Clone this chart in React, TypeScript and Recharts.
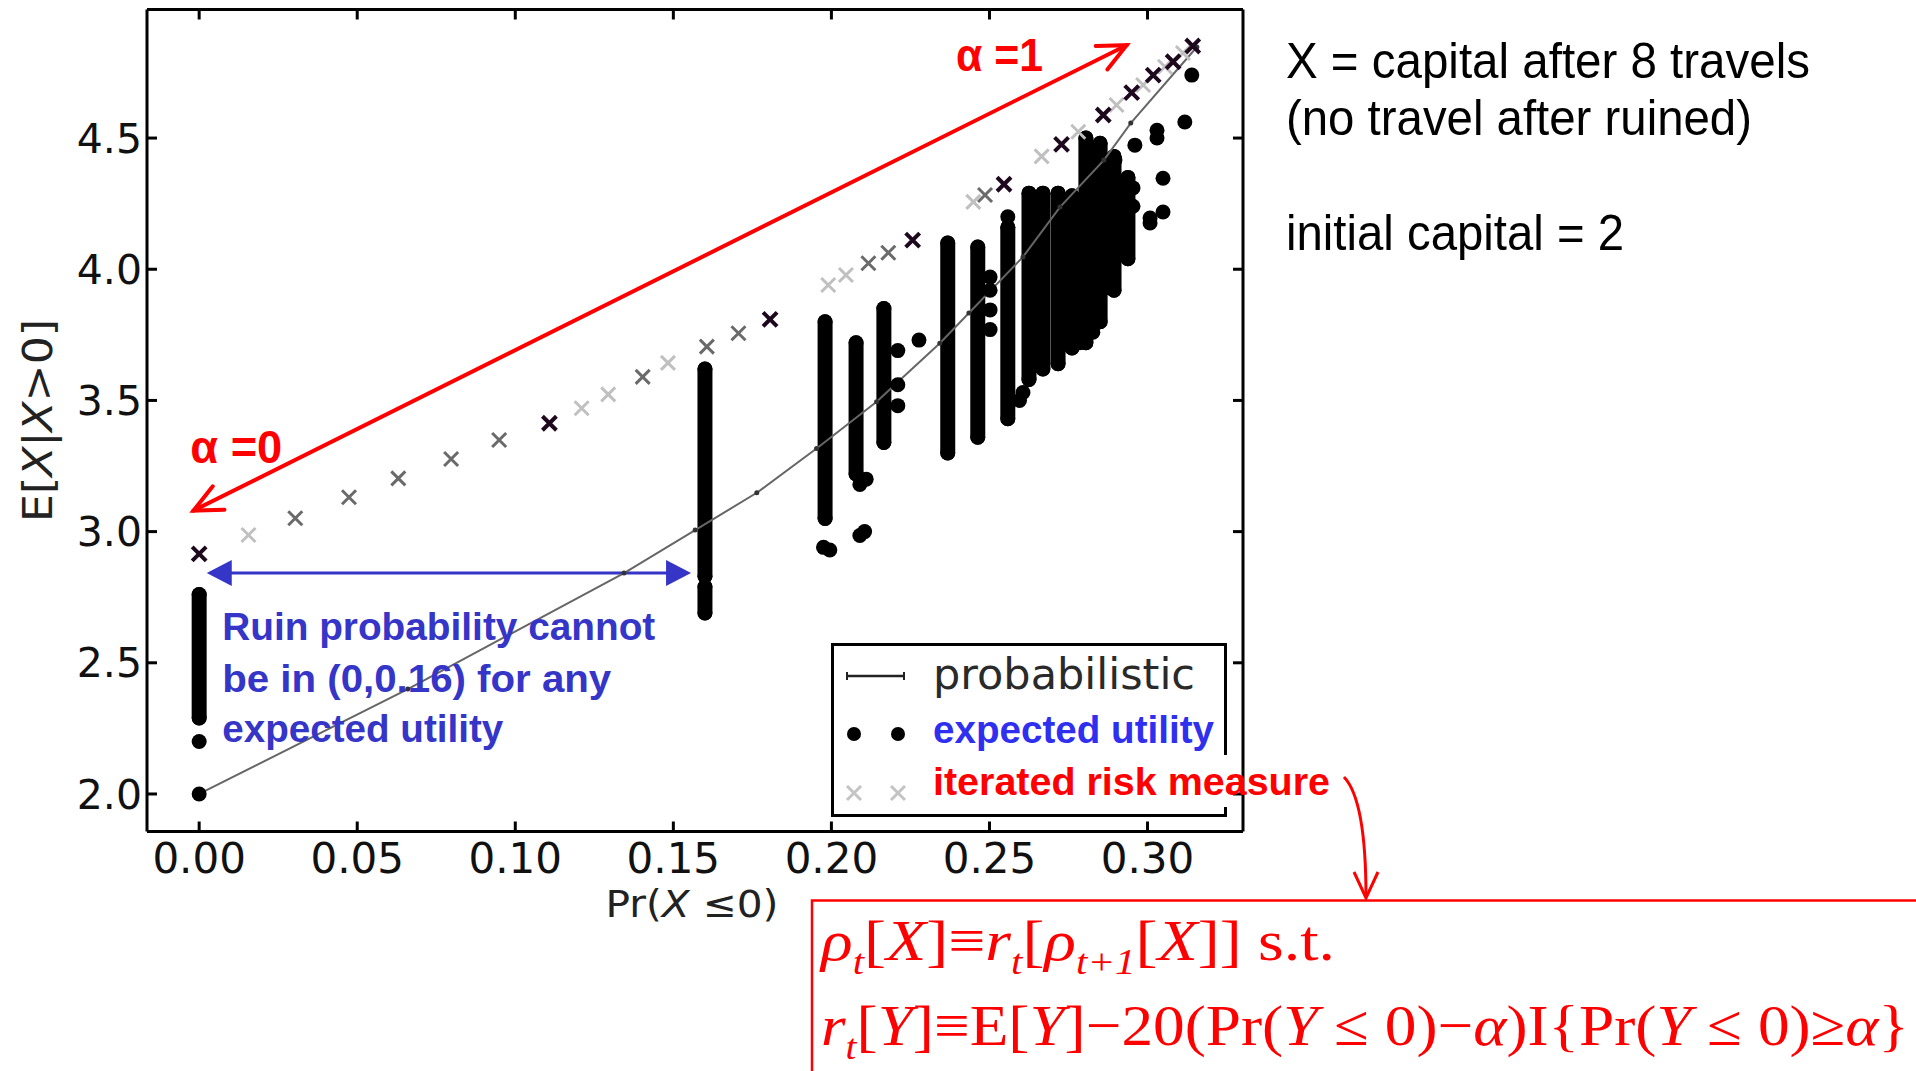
import React from "react";
import {
  ScatterChart,
  Scatter,
  XAxis,
  YAxis,
  ErrorBar,
  ReferenceLine,
  ReferenceDot,
  Legend,
} from "recharts";

const xTicks = [0, 0.05, 0.1, 0.15, 0.2, 0.25, 0.3];
const yTicks = [2.0, 2.5, 3.0, 3.5, 4.0, 4.5];

// probabilistic frontier (x = ruin probability, y = E[X|X>0])
const probabilistic = [
  [0.0, 2.0], [0.066, 2.4], [0.1344, 2.842], [0.1569, 3.006], [0.1764, 3.148],
  [0.1953, 3.317], [0.2143, 3.495], [0.2217, 3.578], [0.2343, 3.718], [0.2435, 3.833],
  [0.2606, 4.047], [0.2723, 4.237], [0.2862, 4.416], [0.2947, 4.557], [0.3156, 4.847],
];

// expected utility: dense vertical runs of points [x, lowest y, highest y]
const utilityRuns = [
  [0.0, 2.29, 2.76], [0.16, 2.83, 3.62], [0.16, 2.69, 2.79], [0.198, 3.05, 3.8],
  [0.2078, 3.22, 3.72], [0.2166, 3.34, 3.85], [0.2368, 3.3, 4.1], [0.2463, 3.36, 4.085],
  [0.2558, 3.43, 4.16], [0.2625, 3.58, 4.29], [0.2669, 3.62, 4.29], [0.2717, 3.64, 4.29],
  [0.2761, 3.7, 4.28], [0.2805, 3.72, 4.5], [0.285, 3.8, 4.48], [0.2894, 3.92, 4.43],
  [0.2938, 4.04, 4.35],
];

// expected utility: isolated points
const utilityDots = [
  [0.0, 2.2], [0.0, 2.0], [0.1975, 2.94], [0.1995, 2.93], [0.209, 2.985], [0.2105, 3.0],
  [0.209, 3.18], [0.211, 3.2], [0.221, 3.69], [0.221, 3.56], [0.221, 3.48], [0.2277, 3.73],
  [0.2502, 3.97], [0.2502, 3.92], [0.2502, 3.845], [0.2502, 3.77], [0.2558, 4.2],
  [0.2606, 3.53], [0.2595, 3.5], [0.2739, 3.72], [0.2786, 3.72], [0.278, 3.84],
  [0.2827, 3.78], [0.2827, 3.76], [0.2872, 3.93], [0.2897, 4.416], [0.296, 4.473],
  [0.303, 4.5], [0.303, 4.53], [0.3118, 4.561], [0.314, 4.74], [0.3049, 4.347],
  [0.3049, 4.218], [0.3008, 4.195], [0.3008, 4.176], [0.2954, 4.31], [0.2954, 4.24],
];

// iterated risk measure, split by how dark the marker is drawn
const riskDark = [
  [0.0, 2.915], [0.1108, 3.413], [0.1806, 3.809], [0.2257, 4.111], [0.2546, 4.324],
  [0.2728, 4.476], [0.286, 4.588], [0.295, 4.673], [0.3018, 4.74], [0.3081, 4.791],
  [0.3143, 4.851],
];
const riskMid = [
  [0.0304, 3.051], [0.0474, 3.131], [0.063, 3.203], [0.0797, 3.277], [0.0949, 3.349],
  [0.1403, 3.59], [0.1606, 3.705], [0.1706, 3.756], [0.2117, 4.023], [0.218, 4.063],
  [0.2486, 4.283],
];
const riskLight = [
  [0.0156, 2.987], [0.121, 3.47], [0.1294, 3.523], [0.1483, 3.643], [0.199, 3.94],
  [0.2046, 3.978], [0.2449, 4.257], [0.2665, 4.43], [0.2781, 4.524], [0.2902, 4.626],
  [0.2986, 4.702], [0.3055, 4.772], [0.3112, 4.824],
];

const toRows = (pts: number[][]) => pts.map(([x, y]) => ({ x, y }));
const runRows = utilityRuns.map(([x, lo, hi]) => ({ x, y: (lo + hi) / 2, err: (hi - lo) / 2 }));

const SANS = "'Liberation Sans', Arial, sans-serif";
const DEJAVU = "'DejaVu Sans', sans-serif";
const SERIF = "'Liberation Serif', 'Times New Roman', serif";

const cross = (color: string, w: number) => (p: any) => {
  const { cx, cy } = p;
  if (cx == null || cy == null) return <g />;
  return (
    <path
      d={`M${cx - 7},${cy - 7}L${cx + 7},${cy + 7}M${cx - 7},${cy + 7}L${cx + 7},${cy - 7}`}
      stroke={color}
      strokeWidth={w}
    />
  );
};

const bigDot = (p: any) => <circle cx={p.cx} cy={p.cy} r={7.5} fill="#000" />;
const smallDot = (p: any) => <circle cx={p.cx} cy={p.cy} r={2.5} fill="#333" />;
const nothing = () => <g />;

function redArrow(p: any) {
  const { x1, y1, x2, y2 } = p;
  const a = Math.atan2(y2 - y1, x2 - x1);
  const L = 31;
  const s = (25 * Math.PI) / 180;
  const head = (x: number, y: number, dir: number) =>
    `M${x + L * Math.cos(dir + s)},${y + L * Math.sin(dir + s)}L${x},${y}L${x + L * Math.cos(dir - s)},${y + L * Math.sin(dir - s)}`;
  return (
    <g stroke="#ff0000" strokeWidth={4} fill="none" strokeLinecap="round">
      <line x1={x1} y1={y1} x2={x2} y2={y2} />
      <path d={head(x1, y1, a)} />
      <path d={head(x2, y2, a + Math.PI)} />
    </g>
  );
}

function blueArrow(p: any) {
  const { x1, y1, x2, y2 } = p;
  const L = 25;
  const h = 13;
  return (
    <g>
      <line x1={x1 + L - 2} y1={y1} x2={x2 - L + 2} y2={y2} stroke="#3535c8" strokeWidth={3} />
      <path d={`M${x1},${y1}L${x1 + L},${y1 - h}L${x1 + L},${y1 + h}Z`} fill="#3535c8" />
      <path d={`M${x2},${y2}L${x2 - L},${y2 - h}L${x2 - L},${y2 + h}Z`} fill="#3535c8" />
    </g>
  );
}

const alphaText = (value: string, width: number) => (p: any) => (
  <text x={p.cx} y={p.cy} fill="#ff0000" fontFamily={SANS} fontWeight="bold" fontSize={46} textLength={width} lengthAdjust="spacingAndGlyphs">
    {"α =" + value}
  </text>
);

const ruinNote = (p: any) => (
  <g fill="#3535c8" fontFamily={SANS} fontWeight="bold" fontSize={38}>
    <text x={p.cx} y={p.cy} textLength={433} lengthAdjust="spacingAndGlyphs">Ruin probability cannot</text>
    <text x={p.cx} y={p.cy + 51.5} textLength={389} lengthAdjust="spacingAndGlyphs">be in (0,0.16) for any</text>
    <text x={p.cx} y={p.cy + 101.5} textLength={281} lengthAdjust="spacingAndGlyphs">expected utility</text>
  </g>
);

function yLabel(props: any) {
  const vb = props.viewBox || {};
  const cx = (vb.x ?? 7) + 31;
  const cy = (vb.y ?? 9.5) + (vb.height ?? 822) / 2;
  return (
    <text
      x={cx}
      y={cy}
      transform={`rotate(-90 ${cx} ${cy})`}
      textAnchor="middle"
      dominantBaseline="central"
      fontFamily={DEJAVU}
      fontSize={40}
      fill="#222"
      textLength={203}
      lengthAdjust="spacingAndGlyphs"
    >
      E[<tspan fontStyle="italic">X</tspan>|<tspan fontStyle="italic">X</tspan>&gt;0]
    </text>
  );
}

function xLabel(props: any) {
  const vb = props.viewBox || {};
  const x = (vb.x ?? 147) + 545;
  const y = (vb.y ?? 831.5) + 85;
  return (
    <text x={x} y={y} textAnchor="middle" fontFamily={DEJAVU} fontSize={37} fill="#222" textLength={173} lengthAdjust="spacingAndGlyphs">
      Pr(<tspan fontStyle="italic">X</tspan> ≤0)
    </text>
  );
}

function LegendBox() {
  return (
    <svg width={420} height={180} style={{ overflow: "visible", display: "block" }}>
      <rect x={1.5} y={1.5} width={393} height={171} fill="#fff" stroke="#000" strokeWidth={3} />
      <rect x={388} y={112} width={14} height={52} fill="#fff" />
      <line x1={16} y1={33} x2={73} y2={33} stroke="#222" strokeWidth={2.5} />
      <line x1={16} y1={29} x2={16} y2={37} stroke="#222" strokeWidth={2} />
      <line x1={73} y1={29} x2={73} y2={37} stroke="#222" strokeWidth={2} />
      <text x={102} y={46} fontFamily={DEJAVU} fontSize={42} fill="#2a2a2a" textLength={262} lengthAdjust="spacingAndGlyphs">
        probabilistic
      </text>
      <circle cx={23} cy={91} r={7} fill="#000" />
      <circle cx={67} cy={91} r={7} fill="#000" />
      <text x={102} y={100} fontFamily={SANS} fontWeight="bold" fontSize={39} fill="#2f2ff0" textLength={281} lengthAdjust="spacingAndGlyphs">
        expected utility
      </text>
      <path d="M16,143L30,157M16,157L30,143M60,143L74,157M60,157L74,143" stroke="#c4c4c4" strokeWidth={3} />
      <text x={102} y={152} fontFamily={SANS} fontWeight="bold" fontSize={39} fill="#ff0000" textLength={397} lengthAdjust="spacingAndGlyphs">
        iterated risk measure
      </text>
    </svg>
  );
}

export default function App() {
  const axisLine = { stroke: "#000", strokeWidth: 3 };
  const tickLine = { stroke: "#000", strokeWidth: 3 };
  return (
    <div style={{ position: "absolute", left: 0, top: 0, width: 1916, height: 1071, background: "#fff" }}>
      <ScatterChart width={1916} height={1071} margin={{ top: 8.5, right: 672, bottom: 139.5, left: 7 }}>
        <XAxis
          type="number"
          dataKey="x"
          domain={[-0.0165, 0.3302]}
          allowDataOverflow
          ticks={xTicks}
          tickFormatter={(v: number) => v.toFixed(2)}
          height={100}
          tickSize={-10}
          tickMargin={21.5}
          axisLine={axisLine}
          tickLine={tickLine}
          tick={{ fontFamily: DEJAVU, fontSize: 42, fill: "#111" }}
          label={xLabel}
        />
        <XAxis
          xAxisId="top"
          orientation="top"
          type="number"
          dataKey="x"
          domain={[-0.0165, 0.3302]}
          allowDataOverflow
          ticks={xTicks}
          height={1}
          tickSize={-10}
          axisLine={axisLine}
          tickLine={tickLine}
          tick={nothing}
        />
        <YAxis
          type="number"
          dataKey="y"
          domain={[1.857, 4.99]}
          allowDataOverflow
          ticks={yTicks}
          tickFormatter={(v: number) => v.toFixed(1)}
          width={140}
          tickSize={-10}
          tickMargin={15}
          axisLine={axisLine}
          tickLine={tickLine}
          tick={{ fontFamily: DEJAVU, fontSize: 41, fill: "#111" }}
          label={yLabel}
        />
        <YAxis
          yAxisId="right"
          orientation="right"
          type="number"
          dataKey="y"
          domain={[1.857, 4.99]}
          allowDataOverflow
          ticks={yTicks}
          width={1}
          tickSize={-10}
          axisLine={axisLine}
          tickLine={tickLine}
          tick={nothing}
        />
        <Legend
          layout="vertical"
          align="center"
          verticalAlign="middle"
          wrapperStyle={{ position: "absolute", left: 831, top: 643, width: 420, height: 180 }}
          content={() => <LegendBox />}
        />
        <Scatter
          name="probabilistic"
          data={toRows(probabilistic)}
          line={{ stroke: "#666", strokeWidth: 2 }}
          shape={smallDot}
          isAnimationActive={false}
        />
        <Scatter name="expected utility runs" data={runRows} shape={nothing} isAnimationActive={false}>
          <ErrorBar
            dataKey="err"
            direction="y"
            width={0}
            stroke="#000"
            strokeWidth={15}
            strokeLinecap="round"
            isAnimationActive={false}
          />
        </Scatter>
        <Scatter name="expected utility" data={toRows(utilityDots)} shape={bigDot} isAnimationActive={false} />
        <Scatter name="iterated risk measure" data={toRows(riskLight)} shape={cross("#c0c0c0", 3)} isAnimationActive={false} />
        <Scatter name="risk mid" data={toRows(riskMid)} shape={cross("#6a6a6a", 3)} isAnimationActive={false} />
        <Scatter name="risk dark" data={toRows(riskDark)} shape={cross("#1e081e", 4)} isAnimationActive={false} />
        <ReferenceLine
          segment={[{ x: -0.0018, y: 3.08 }, { x: 0.2934, y: 4.854 }]}
          shape={redArrow}
        />
        <ReferenceLine
          segment={[{ x: 0.0024, y: 2.842 }, { x: 0.1556, y: 2.842 }]}
          shape={blueArrow}
        />
        <ReferenceDot x={0.2394} y={4.755} r={0} shape={alphaText("1", 87)} />
        <ReferenceDot x={-0.0028} y={3.261} r={0} shape={alphaText("0", 92)} />
        <ReferenceDot x={0.0073} y={2.585} r={0} shape={ruinNote} />
      </ScatterChart>
      <svg
        width={1916}
        height={1071}
        style={{ position: "absolute", left: 0, top: 0, pointerEvents: "none" }}
      >
        <g fontFamily={SANS} fontSize={50} fill="#000">
          <text x={1286} y={78} textLength={524} lengthAdjust="spacingAndGlyphs">X = capital after 8 travels</text>
          <text x={1286} y={135} textLength={466} lengthAdjust="spacingAndGlyphs">(no travel after ruined)</text>
          <text x={1286} y={250} textLength={338} lengthAdjust="spacingAndGlyphs">initial capital = 2</text>
        </g>
        <path d="M1344,777 Q1366,800 1366,897" stroke="#ff0000" strokeWidth={3} fill="none" />
        <path d="M1354,872 L1366,898 L1378,872" stroke="#ff0000" strokeWidth={3} fill="none" />
        <path d="M1920,900.5 H812 V1075" stroke="#ff0000" strokeWidth={2.5} fill="none" />
        <g fill="#ff0000" fontFamily={SERIF} fontSize={58}>
          <text x={821} y={960} textLength={514} lengthAdjust="spacingAndGlyphs">
            <tspan fontStyle="italic">ρ</tspan>
            <tspan fontStyle="italic" fontSize={36} dy={14}>t</tspan>
            <tspan dy={-14}>[</tspan>
            <tspan fontStyle="italic">X</tspan>
            <tspan>]≡</tspan>
            <tspan fontStyle="italic">r</tspan>
            <tspan fontStyle="italic" fontSize={36} dy={14}>t</tspan>
            <tspan dy={-14}>[</tspan>
            <tspan fontStyle="italic">ρ</tspan>
            <tspan fontStyle="italic" fontSize={36} dy={14}>t+1</tspan>
            <tspan dy={-14}>[</tspan>
            <tspan fontStyle="italic">X</tspan>
            <tspan>]]  s.t.</tspan>
          </text>
          <text x={821} y={1045} textLength={1088} lengthAdjust="spacingAndGlyphs">
            <tspan fontStyle="italic">r</tspan>
            <tspan fontStyle="italic" fontSize={36} dy={14}>t</tspan>
            <tspan dy={-14}>[</tspan>
            <tspan fontStyle="italic">Y</tspan>
            <tspan>]≡E[</tspan>
            <tspan fontStyle="italic">Y</tspan>
            <tspan>]−20(Pr(</tspan>
            <tspan fontStyle="italic">Y</tspan>
            <tspan> ≤ 0)−</tspan>
            <tspan fontStyle="italic">α</tspan>
            <tspan>)I{"{"}Pr(</tspan>
            <tspan fontStyle="italic">Y</tspan>
            <tspan> ≤ 0)≥</tspan>
            <tspan fontStyle="italic">α</tspan>
            <tspan>{"}"}</tspan>
          </text>
        </g>
      </svg>
    </div>
  );
}
